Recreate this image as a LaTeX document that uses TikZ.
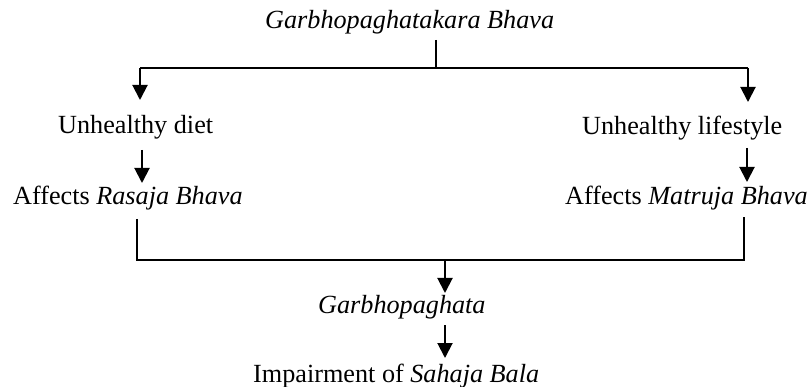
\documentclass[tikz,border=0pt]{standalone}
\usepackage{fontspec}
\setmainfont{Liberation Serif}
\usetikzlibrary{arrows.meta}
\begin{document}
\begin{tikzpicture}[x=1pt,y=1pt,
  lbl/.style={anchor=base west,inner sep=0pt,font=\fontsize{26.2}{30}\selectfont},
  ln/.style={line width=2pt},
  arr/.style={line width=2pt,-{Triangle[width=15pt,length=15pt]}}]
\useasboundingbox (0,0) rectangle (811,-387);
\node[lbl] (title) at (265,-29) {\itshape Garbhopaghatakara Bhava};
\node[lbl] (diet) at (58,-134) {Unhealthy diet};
\node[lbl] (life) at (582,-135) {Unhealthy lifestyle};
\node[lbl] (ras) at (13,-205) {Affects \textit{Rasaja Bhava}};
\node[lbl] (mat) at (565,-205) {Affects \textit{Matruja Bhava}};
\node[lbl] (gp) at (318,-313) {\itshape Garbhopaghata};
\node[lbl] (imp) at (253,-382) {Impairment of \textit{Sahaja Bala}};
% junction coordinates
\coordinate (t0) at (436,-40);
\coordinate (t1) at (436,-68);
\coordinate (tl) at (140,-68);
\coordinate (tr) at (748,-68);
\coordinate (tlE) at (140,-100);
\coordinate (trE) at (748,-102);
\coordinate (dS) at (142,-150);
\coordinate (dE) at (142,-183);
\coordinate (lS) at (747,-148);
\coordinate (lE) at (747,-182);
\coordinate (rS) at (137,-219);
\coordinate (rB) at (137,-260);
\coordinate (mS) at (744,-217);
\coordinate (mB) at (744,-260);
\coordinate (c0) at (445,-260);
\coordinate (c1) at (445,-293);
\coordinate (g0) at (445,-325);
\coordinate (g1) at (445,-358);
% connectors
\draw[ln] (t0) -- (t1);
\draw[ln] (tl) -- (tr);
\draw[arr] (tl) -- (tlE);
\draw[arr] (tr) -- (trE);
\draw[arr] (dS) -- (dE);
\draw[arr] (lS) -- (lE);
\draw[ln] (rS) -- (rB) -- (mB) -- (mS);
\draw[arr] (c0) -- (c1);
\draw[arr] (g0) -- (g1);
\end{tikzpicture}
\end{document}
